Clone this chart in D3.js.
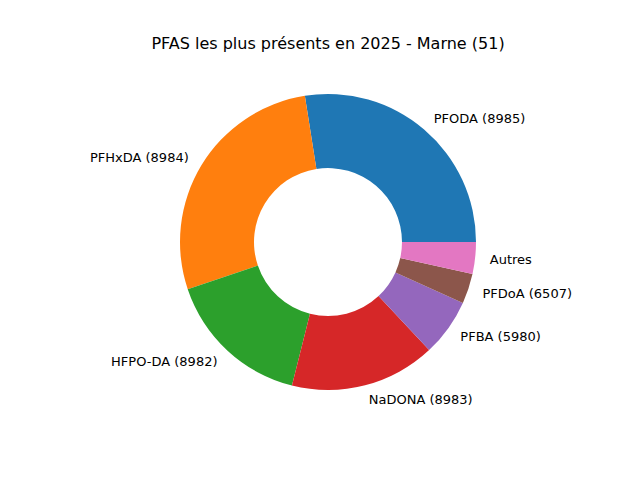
<!DOCTYPE html>
<html><head><meta charset="utf-8">
<script src="https://cdn.jsdelivr.net/npm/d3@7"></script>
<style>body{margin:0;background:#fff}</style></head>
<body><svg id="c" width="640" height="480"></svg>
<script>
const labels = ["PFODA (8985)","PFHxDA (8984)","HFPO-DA (8982)","NaDONA (8983)","PFBA (5980)","PFDoA (6507)","Autres"];
const values = [99, 99.6, 57.3, 57.2, 22.6, 11.8, 12.5];
const colors = ["#1f77b4","#ff7f0e","#2ca02c","#d62728","#9467bd","#8c564b","#e377c2"];
const svg = d3.select("#c");
const cx = 328, cy = 242, R = 148, r0 = 74;
svg.append("text").attr("x",328).attr("y",49).attr("text-anchor","middle")
  .attr("font-family","DejaVu Sans").attr("font-size",16).text("PFAS les plus présents en 2025 - Marne (51)");
const pie = d3.pie().sort(null).startAngle(Math.PI/2).endAngle(Math.PI/2 - 2*Math.PI);
const arcs = pie(values);
const arc = d3.arc().innerRadius(r0).outerRadius(R);
const g = svg.append("g").attr("transform",`translate(${cx},${cy})`);
g.selectAll("path").data(arcs).join("path").attr("d",arc).attr("fill",(d,i)=>colors[i]);
g.selectAll("text").data(arcs).join("text")
  .each(function(d,i){
    const a=(d.startAngle+d.endAngle)/2;
    const x=1.1*R*Math.sin(a), y=-1.1*R*Math.cos(a);
    d3.select(this).attr("x",x).attr("y",y).attr("dy","0.35em")
      .attr("text-anchor", x>0?"start":"end")
      .attr("font-family","DejaVu Sans").attr("font-size",13).text(labels[i]);
  });
</script></body></html>
